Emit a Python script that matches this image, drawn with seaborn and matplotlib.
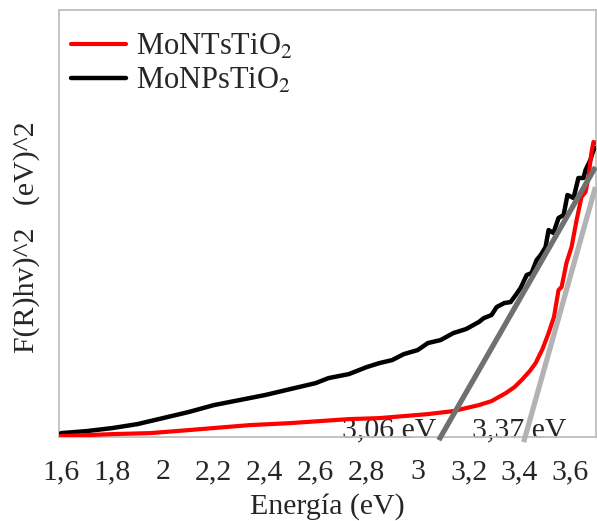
import matplotlib
matplotlib.use("Agg")
import matplotlib.pyplot as plt
import seaborn as sns

# energy (eV) and F(R)hv^2 values (arbitrary units)
nts_energy = [1.60, 1.70, 1.80, 1.95, 2.10, 2.34, 2.50, 2.73, 2.85, 3.04, 3.14,
              3.24, 3.29, 3.346, 3.38, 3.408, 3.44, 3.463, 3.49, 3.514, 3.535,
              3.553, 3.565, 3.584, 3.604, 3.624, 3.643, 3.659, 3.670, 3.682,
              3.690, 3.698]
nts_value = [0.01, 0.02, 0.03, 0.04, 0.07, 0.12, 0.14, 0.18, 0.19, 0.23, 0.26,
             0.32, 0.36, 0.44, 0.50, 0.57, 0.66, 0.74, 0.88, 1.04, 1.20,
             1.47, 1.50, 1.74, 1.90, 2.17, 2.40, 2.45, 2.59, 2.84,
             2.95, 2.94]

nps_energy = [1.60, 1.70, 1.80, 1.90, 2.00, 2.10, 2.20, 2.30, 2.40, 2.50, 2.60,
              2.65, 2.73, 2.80, 2.85, 2.90, 2.946, 3.00, 3.04, 3.09, 3.14,
              3.19, 3.24, 3.26, 3.29, 3.31, 3.34, 3.365, 3.385, 3.404, 3.428,
              3.447, 3.467, 3.483, 3.502, 3.514, 3.533, 3.553, 3.573, 3.588,
              3.612, 3.631, 3.651, 3.659, 3.678, 3.690, 3.698]
nps_value = [0.04, 0.06, 0.09, 0.13, 0.19, 0.25, 0.32, 0.37, 0.42, 0.48, 0.54,
             0.59, 0.63, 0.70, 0.74, 0.77, 0.83, 0.87, 0.94, 0.97, 1.04,
             1.08, 1.15, 1.19, 1.22, 1.30, 1.34, 1.35, 1.42, 1.49, 1.62,
             1.64, 1.77, 1.82, 1.90, 2.07, 2.04, 2.19, 2.22, 2.42,
             2.39, 2.59, 2.59, 2.67, 2.77, 2.87, 2.89]

# tangent lines used for the band gap estimate
tan_nps_x = [3.083, 3.698]
tan_nps_y = [-0.03, 2.70]
tan_nts_x = [3.416, 3.698]
tan_nts_y = [-0.05, 2.50]

xticks = [1.6, 1.8, 2.0, 2.2, 2.4, 2.6, 2.8, 3.0, 3.2, 3.4, 3.6]
xtick_labels = ["1,6", "1,8", "2", "2,2", "2,4", "2,6", "2,8", "3", "3,2", "3,4", "3,6"]

sns.set_theme(style="white")
plt.rcParams["font.family"] = ["Liberation Serif", "DejaVu Serif"]
plt.rcParams["mathtext.fontset"] = "stix"

FS = 21.5

fig = plt.figure(figsize=(5.97, 5.21), dpi=100)
ax = fig.add_axes([0.0988, 0.161, 0.8995, 0.820])

sns.lineplot(x=nts_energy, y=nts_value, color="#ff0000", lw=3,
             label="MoNTsTiO$_2$", ax=ax, zorder=4)
sns.lineplot(x=nps_energy, y=nps_value, color="#000000", lw=3.2,
             label="MoNPsTiO$_2$", ax=ax, zorder=3)

ax.plot(tan_nps_x, tan_nps_y, color="#707070", lw=3.8, clip_on=False, zorder=5,
        solid_capstyle="butt")
ax.plot(tan_nts_x, tan_nts_y, color="#b3b3b3", lw=3.8, clip_on=False, zorder=5,
        solid_capstyle="butt")

ax.text(3.072, 0.0, "3,06 eV", ha="right", va="baseline", fontsize=FS, zorder=2)
ax.text(3.213, 0.0, "3,37 eV", ha="left", va="baseline", fontsize=FS, zorder=2)

ax.set_xlim(1.592, 3.700)
ax.set_ylim(0, 4.27)
ax.set_xticks(xticks)
ax.set_xticklabels(xtick_labels)
ax.set_yticks([])
ax.tick_params(axis="x", length=0, pad=16, labelsize=FS)

ax.set_xlabel("Energía (eV)", fontsize=FS, labelpad=5.5)
ax.set_ylabel("F(R)hv)^2   (eV)^2", fontsize=FS)
ax.yaxis.set_label_coords(-0.036, 0.468)

for s in ax.spines.values():
    s.set_color("#bfbfbf")
    s.set_linewidth(1.3)

ax.legend(loc="upper left", bbox_to_anchor=(0.005, 0.968), frameon=False,
          fontsize=22, handlelength=1.8, labelspacing=0.15, borderaxespad=0,
          borderpad=0.3, handletextpad=0.33)

fig.savefig("out.png", dpi=100)
